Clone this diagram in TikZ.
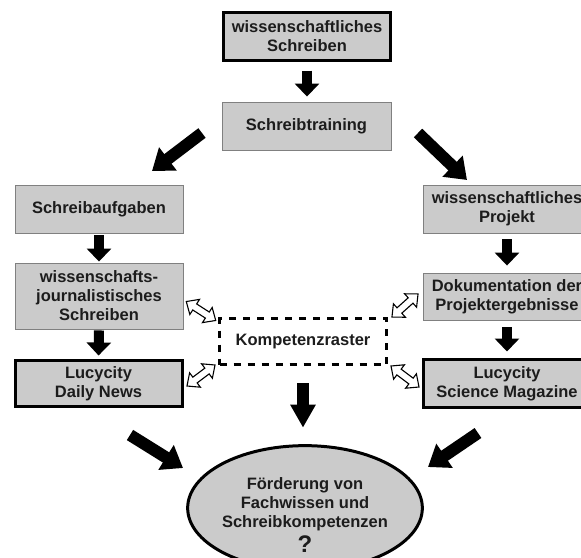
\documentclass[tikz,border=0pt]{standalone}
\usepackage{fontspec}
\setmainfont{Liberation Sans}
\usetikzlibrary{arrows.meta,calc,shapes.geometric}
\definecolor{boxgray}{HTML}{CBCBCB}
\definecolor{edgegray}{HTML}{808080}
\definecolor{txt}{HTML}{1C1C1C}
\tikzset{
  dblarrow/.pic={\draw[fill=white, line width=1.1pt, line join=miter]
    (-17.5,0) -- (-7.5,9) -- (-7.5,3.6) -- (7.5,3.6) -- (7.5,9) -- (17.5,0) -- (7.5,-9) -- (7.5,-3.6) -- (-7.5,-3.6) -- (-7.5,-9) -- cycle;}
}
\newcommand\dblconn[2]{\path let \p1=(#1), \p2=(#2), \n1={atan2(\y2-\y1,\x2-\x1)} in ($(#1)!0.5!(#2)$) pic[rotate=\n1] {dblarrow};}
\begin{document}
\begin{tikzpicture}[x=1pt,y=-1pt,
  font=\bfseries\fontsize{16.5}{19}\selectfont,
  box/.style={draw=edgegray, line width=0.9pt, fill=boxgray, text=txt, align=center, inner sep=0pt, minimum width=168pt},
  thickbox/.style={box, draw=black, line width=3pt, minimum width=167pt},
  komp/.style={draw=black, line width=3pt, dash pattern=on 7pt off 7pt, text=txt, align=center, inner sep=0pt, minimum width=167pt, minimum height=46pt},
  goal/.style={ellipse, draw=black, line width=3pt, fill=boxgray, text=txt, align=center, inner sep=0pt, minimum width=213pt, minimum height=111pt},
  smallarrow/.style={line width=10pt, black, -{Triangle[width=24pt,length=13pt]}},
  diagarrow/.style={line width=12pt, black, -{Triangle[width=28pt,length=20pt]}},
  bigarrow/.style={line width=12pt, black, -{Triangle[width=24pt,length=23pt]}}
]
\useasboundingbox (0,0) rectangle (581,557);
\clip (0,0) rectangle (581,557);

\node[thickbox, minimum height=48pt] (ws) at (307,36.5) {wissenschaftliches\\Schreiben};
\node[box, minimum width=169pt, minimum height=48pt] (tr) at (306.5,126) {Schreibtraining};
\node[box, minimum height=48pt] (au) at (99,209) {Schreibaufgaben};
\node[box, minimum height=48pt] (pr) at (507,209) {wissenschaftliches\\Projekt};
\node[box, minimum height=66pt] (jo) at (99,296) {wissenschafts-\\journalistisches\\Schreiben};
\node[box, minimum height=47pt] (do) at (507,296.5) {Dokumentation der\\Projektergebnisse};
\node[thickbox, minimum height=46pt] (ld) at (98.5,383.5) {Lucycity\\Daily News};
\node[thickbox, minimum height=48pt] (ls) at (507,383.5) {Lucycity\\Science Magazine};
\node[komp] (kr) at (303,341.5) {Kompetenzraster};
\node[goal] (fo) at (305,508) {\rule{0pt}{26pt}F\"orderung von\\Fachwissen und\\Schreibkompetenzen\\[3pt]{\fontsize{24}{24}\selectfont ?}};

% vertical block arrows
\draw[smallarrow, shorten <=8.5pt, shorten >=5pt] (ws.south) -- (ws.south |- tr.north);
\draw[smallarrow, shorten <=2pt, shorten >=1pt] (au.south) -- (jo.north);
\draw[smallarrow, shorten <=1pt, shorten >=3.5pt] (jo.south) -- (ld.south |- ld.north);
\draw[smallarrow, shorten <=6pt, shorten >=7pt] (pr.south) -- (do.north);
\draw[smallarrow, shorten <=7pt, shorten >=6.5pt] (do.south) -- (ls.north);
\draw[bigarrow, shorten <=17pt, shorten >=16.5pt] (kr.south) -- (kr.south |- fo.north);

% diagonal block arrows
\coordinate (t1) at (202,133); \coordinate (h1) at (152,171);
\coordinate (t2) at (418,133); \coordinate (h2) at (467,180);
\coordinate (t3) at (130,435); \coordinate (h3) at (183,468);
\coordinate (t4) at (478,433); \coordinate (h4) at (428,467);
\draw[diagarrow] (t1) -- (h1);
\draw[diagarrow] (t2) -- (h2);
\draw[diagarrow] (t3) -- (h3);
\draw[diagarrow] (t4) -- (h4);

% double outlined arrows
\coordinate (a1) at (187,302); \coordinate (b1) at (215,320);
\coordinate (a2) at (187,386); \coordinate (b2) at (215,365);
\coordinate (a3) at (391,318); \coordinate (b3) at (419,293);
\coordinate (a4) at (391,366); \coordinate (b4) at (419,387);
\dblconn{a1}{b1}
\dblconn{a2}{b2}
\dblconn{a3}{b3}
\dblconn{a4}{b4}
\end{tikzpicture}
\end{document}
